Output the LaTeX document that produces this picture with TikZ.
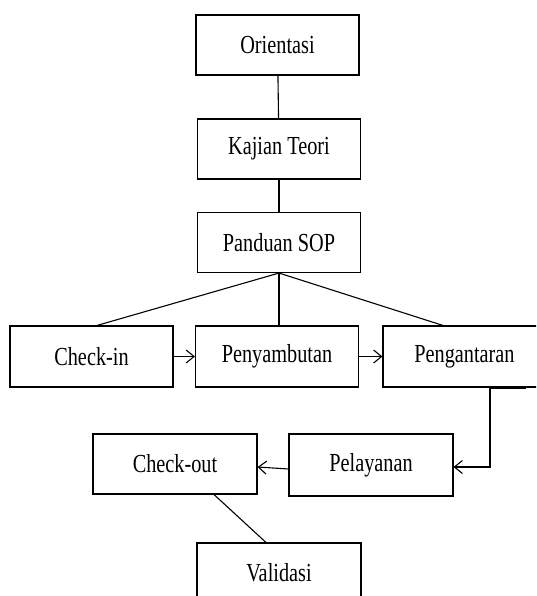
\documentclass[tikz,border=0pt]{standalone}
\usepackage{fontspec}
\setmainfont{Liberation Serif}[FakeStretch=0.78]
\usetikzlibrary{arrows.meta,calc}

\begin{document}
\begin{tikzpicture}[x=1pt,y=-1pt,
  box/.style={draw, line width=1.1pt, minimum width=163pt, minimum height=60pt,
    inner sep=0pt, font=\fontsize{26}{30}\selectfont},
  link/.style={line width=1.1pt},
  flow/.style={line width=1.1pt, -{Straight Barb[length=8pt,width=13pt,line width=1.1pt]}}]
  \useasboundingbox (0,0) rectangle (536,596);
  \clip (0,0) rectangle (536,596);

  % main column
  \node[box] (ori) at (277.5,45) {Orientasi};
  \node[box] (kaj) at (279,149) {Kajian Teori};
  \node[box] (pan) at (279,242.5) {Panduan SOP};

  % process row
  \node[box, minimum height=61pt] (cin) at (91.5,356.5) {Check-in};
  \node[box, minimum height=61pt] (pny) at (277,356.5) {Penyambutan};
  \node[box, minimum height=61pt] (pgt) at (464.5,356.5) {Pengantaran};

  % lower part
  \node[box, minimum width=164pt, minimum height=62pt] (pel) at (371,465) {Pelayanan};
  \node[box, minimum width=164pt] (cout) at (175,464) {Check-out};
  \node[box, minimum width=164pt] (val) at (279,573) {Validasi};

  % connectors
  \draw[link] (ori) -- (kaj);
  \draw[link] (kaj) -- (pan);
  \draw[link] (pan.south) -- ([xshift=5.5pt]cin.north);
  \draw[link] (pan.south) -- (pan.south |- pny.north);
  \draw[link] (pan.south) -- ([xshift=-21.5pt]pgt.north);

  \draw[flow] (cin) -- (pny);
  \draw[flow] (pny) -- (pgt);

  \coordinate (drop) at ([xshift=25.5pt]pgt.south);
  \draw[line width=2.4pt] (drop) -- ([xshift=61.5pt]pgt.south);
  \draw[flow] (drop) |- ([yshift=-2pt]pel.east);
  \draw[flow] ([yshift=-4pt]pel.west) -- ([yshift=-3pt]cout.east);

  \draw[link] ([xshift=39pt]cout.south) -- ([xshift=-13pt]val.north);
\end{tikzpicture}
\end{document}
